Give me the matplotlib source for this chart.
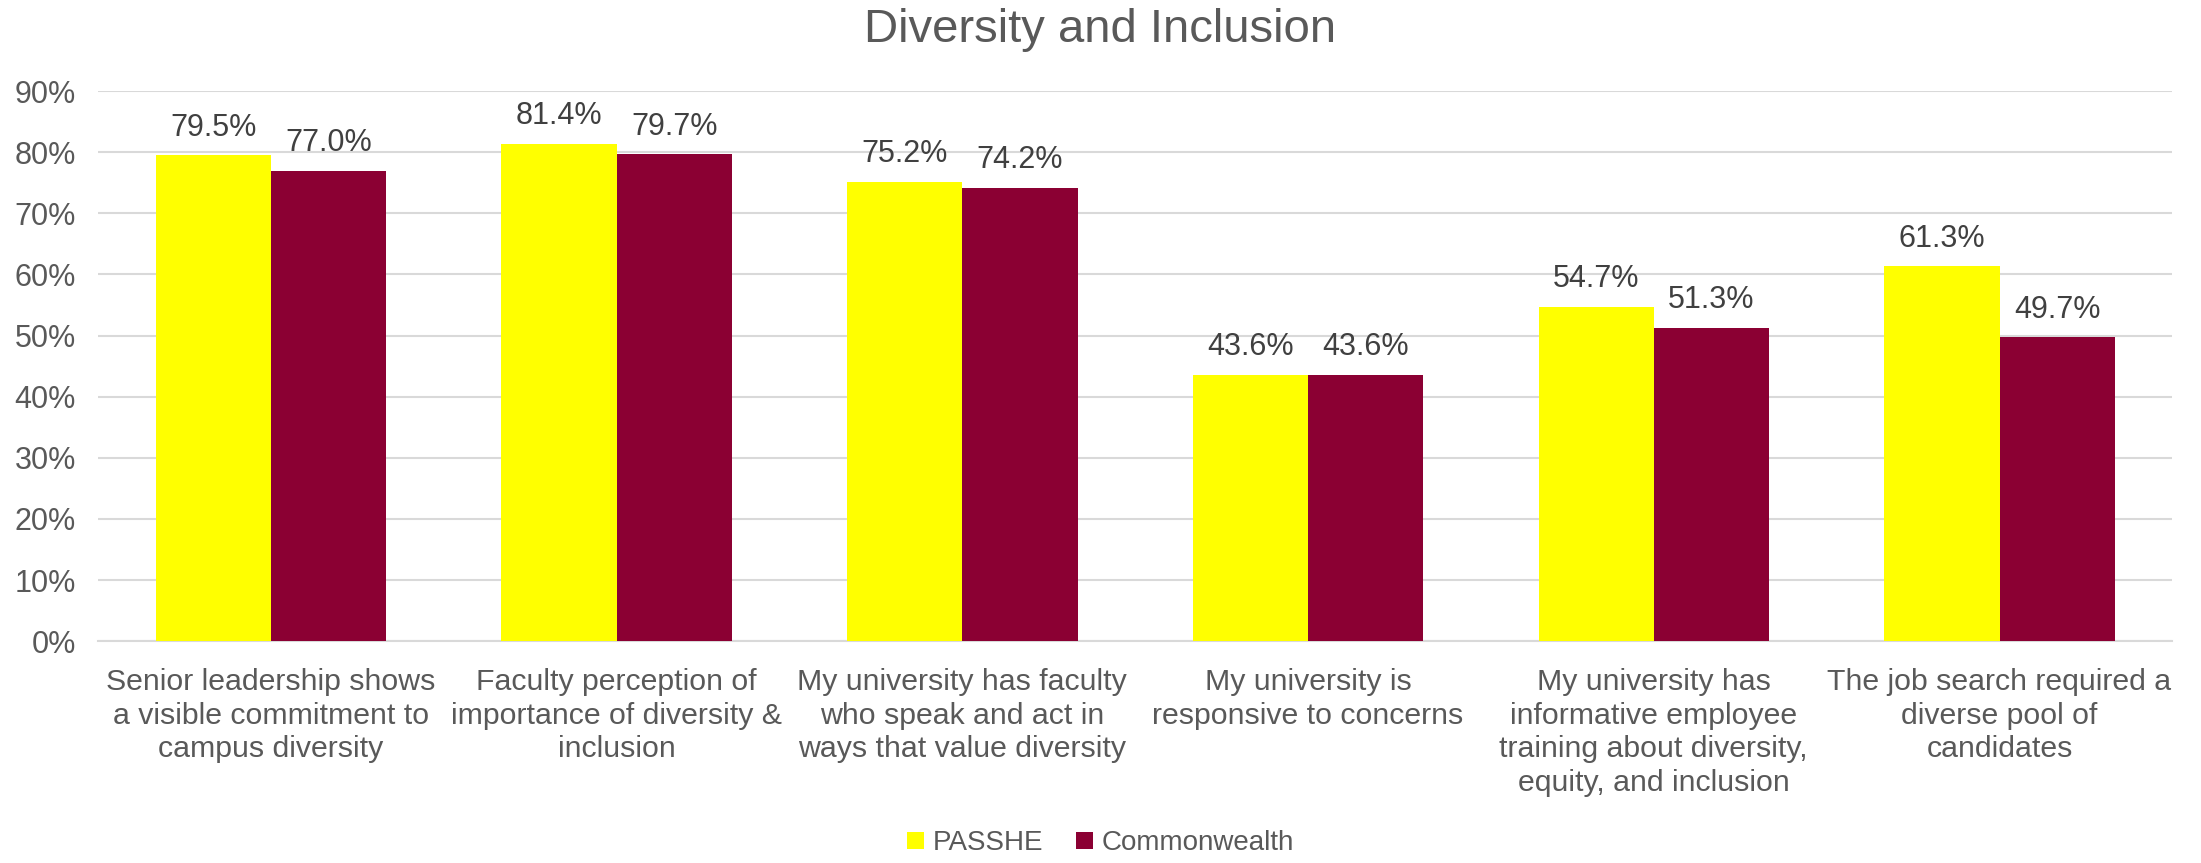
import matplotlib
matplotlib.use("Agg")
import matplotlib.pyplot as plt
from matplotlib.ticker import PercentFormatter
import numpy as np

categories = [
    "Senior leadership shows\na visible commitment to\ncampus diversity",
    "Faculty perception of\nimportance of diversity &\ninclusion",
    "My university has faculty\nwho speak and act in\nways that value diversity",
    "My university is\nresponsive to concerns",
    "My university has\ninformative employee\ntraining about diversity,\nequity, and inclusion",
    "The job search required a\ndiverse pool of\ncandidates",
]
passhe = [79.5, 81.4, 75.2, 43.6, 54.7, 61.3]
commonwealth = [77.0, 79.7, 74.2, 43.6, 51.3, 49.7]
series_names = ["PASSHE", "Commonwealth"]
yticks = [0, 10, 20, 30, 40, 50, 60, 70, 80, 90]

TEXT = "#595959"
plt.rcParams["font.family"] = ["Liberation Sans", "DejaVu Sans"]

fig = plt.figure(figsize=(22.01, 8.63), dpi=100)
ax = fig.add_axes([0.0445, 0.257, 0.9425, 0.6375])

x = np.arange(len(categories))
w = 1 / 3
b1 = ax.bar(x - w / 2, passhe, w, color="#FFFF00", label=series_names[0], zorder=3)
b2 = ax.bar(x + w / 2, commonwealth, w, color="#8B0033", label=series_names[1], zorder=3)

for bars, vals in ((b1, passhe), (b2, commonwealth)):
    for r, v in zip(bars, vals):
        ax.annotate(f"{v:.1f}%", (r.get_x() + r.get_width() / 2, v),
                    xytext=(0, 9), textcoords="offset points",
                    ha="center", va="bottom", fontsize=22, color="#404040")

ax.set_xlim(-0.5, len(categories) - 0.5)
ax.set_ylim(0, 90)
ax.set_yticks(yticks)
ax.yaxis.set_major_formatter(PercentFormatter(decimals=0))
ax.set_xticks(x)
ax.set_xticklabels(categories, fontsize=21.8, color=TEXT, linespacing=1.27, va="top")
ax.tick_params(axis="y", labelsize=22, labelcolor=TEXT, length=0, pad=16)
ax.tick_params(axis="x", length=0, pad=19)
ax.grid(axis="y", color="#D9D9D9", linewidth=1.5, zorder=0)
for s in ("top", "right", "left"):
    ax.spines[s].set_visible(False)
ax.spines["bottom"].set_color("#D9D9D9")
ax.spines["bottom"].set_linewidth(1.5)

fig.suptitle("Diversity and Inclusion", fontsize=34, color=TEXT, y=0.991, va="top")

fig.legend(loc="lower center", bbox_to_anchor=(0.5, -0.021), ncol=2, frameon=False,
           fontsize=20, labelcolor=TEXT, handlelength=0.6, handleheight=0.6,
           handletextpad=0.3, columnspacing=1.2)

fig.savefig("out.png", dpi=100)
